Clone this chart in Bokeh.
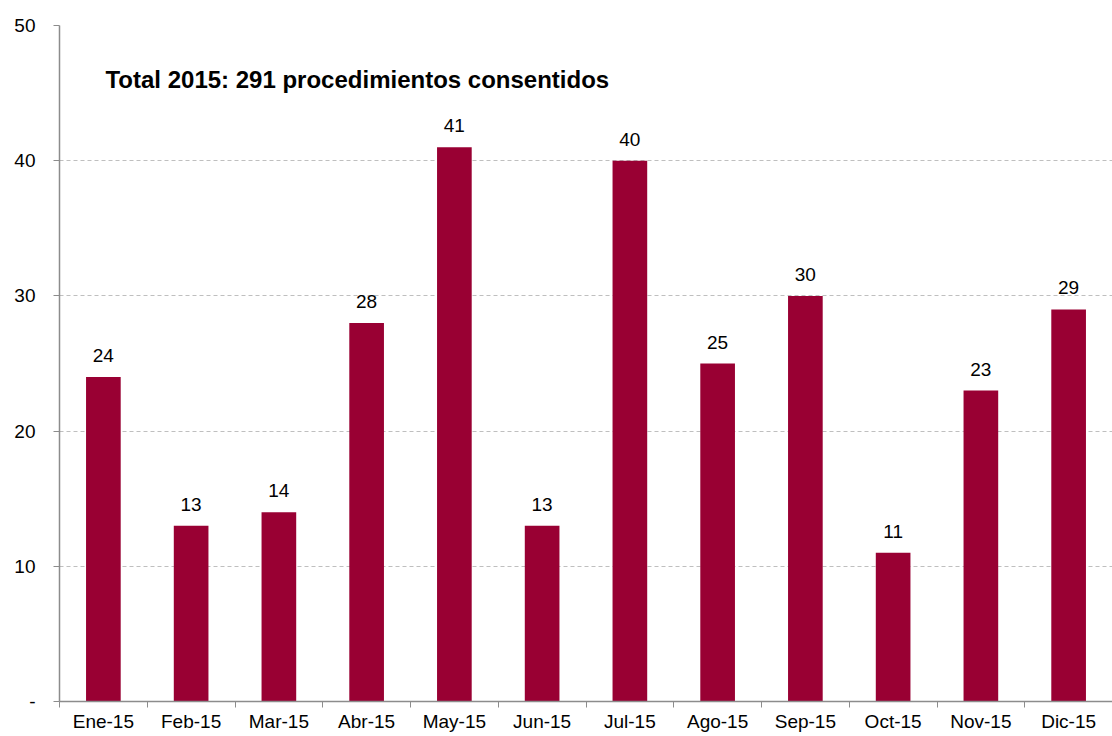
from bokeh.plotting import figure
from bokeh.models import ColumnDataSource, FixedTicker, LabelSet, Label
from bokeh.core.properties import value
from bokeh.embed import file_html
from bokeh.resources import INLINE

months = ["Ene-15", "Feb-15", "Mar-15", "Abr-15", "May-15", "Jun-15",
          "Jul-15", "Ago-15", "Sep-15", "Oct-15", "Nov-15", "Dic-15"]
values = [24, 13, 14, 28, 41, 13, 40, 25, 30, 11, 23, 29]
y_ticks = [0, 10, 20, 30, 40, 50]
y_tick_labels = ["-", "10", "20", "30", "40", "50"]
title_text = "Total 2015: 291 procedimientos consentidos"

xs = [i + 0.5 for i in range(len(months))]
src = ColumnDataSource(dict(x=xs, top=values, lab=[str(v) for v in values]))

FONT = "Liberation Sans"
p = figure(width=1112, height=736, x_range=(0, 12), y_range=(0, 50),
           output_backend="svg", toolbar_location=None,
           min_border_left=59, min_border_right=0, min_border_top=25,
           min_border_bottom=35)
p.outline_line_color = None
p.background_fill_color = "white"

p.vbar(x="x", top="top", bottom=0, width=0.395, source=src,
       fill_color="#990033", line_color=None)

labels = LabelSet(x="x", y="top", text="lab", source=src, y_offset=15,
                  text_align="center", text_baseline="alphabetic",
                  text_font=value(FONT), text_font_size=value("19px"),
                  text_color=value("#000000"))
p.add_layout(labels)

p.add_layout(Label(x=0.524, y=46.0, text=title_text, text_font=FONT,
                   text_font_size="24px", text_font_style="bold",
                   text_baseline="alphabetic", text_align="left",
                   text_color="#000000"))

# x axis
p.xaxis.ticker = FixedTicker(ticks=xs, minor_ticks=list(range(13)))
p.xaxis.major_label_overrides = {x: m for x, m in zip(xs, months)}
p.xaxis.major_tick_line_color = None
p.xaxis.major_tick_out = 0
p.xaxis.major_tick_in = 0
p.xaxis.minor_tick_line_color = "#8c8c8c"
p.xaxis.minor_tick_out = 6
p.xaxis.minor_tick_in = 0
p.xaxis.axis_line_color = "#8c8c8c"
p.xaxis.axis_line_width = 1.5
p.xaxis.major_label_text_font = FONT
p.xaxis.major_label_text_font_size = "19px"
p.xaxis.major_label_text_color = "#000000"
p.xaxis.major_label_standoff = 3

# y axis
p.yaxis.ticker = FixedTicker(ticks=y_ticks)
p.yaxis.major_label_overrides = {t: l for t, l in zip(y_ticks, y_tick_labels)}
p.yaxis.minor_tick_line_color = None
p.yaxis.major_tick_line_color = "#8c8c8c"
p.yaxis.major_tick_out = 6
p.yaxis.major_tick_in = 0
p.yaxis.axis_line_color = "#8c8c8c"
p.yaxis.axis_line_width = 1.5
p.yaxis.major_label_text_font = FONT
p.yaxis.major_label_text_font_size = "19px"
p.yaxis.major_label_text_color = "#000000"
p.yaxis.major_label_standoff = 18

p.xgrid.grid_line_color = None
p.ygrid.grid_line_color = "#bfbfbf"
p.ygrid.grid_line_dash = "4 3"
p.ygrid.grid_line_width = 1

open("out.html", "w").write(file_html(p, INLINE))
